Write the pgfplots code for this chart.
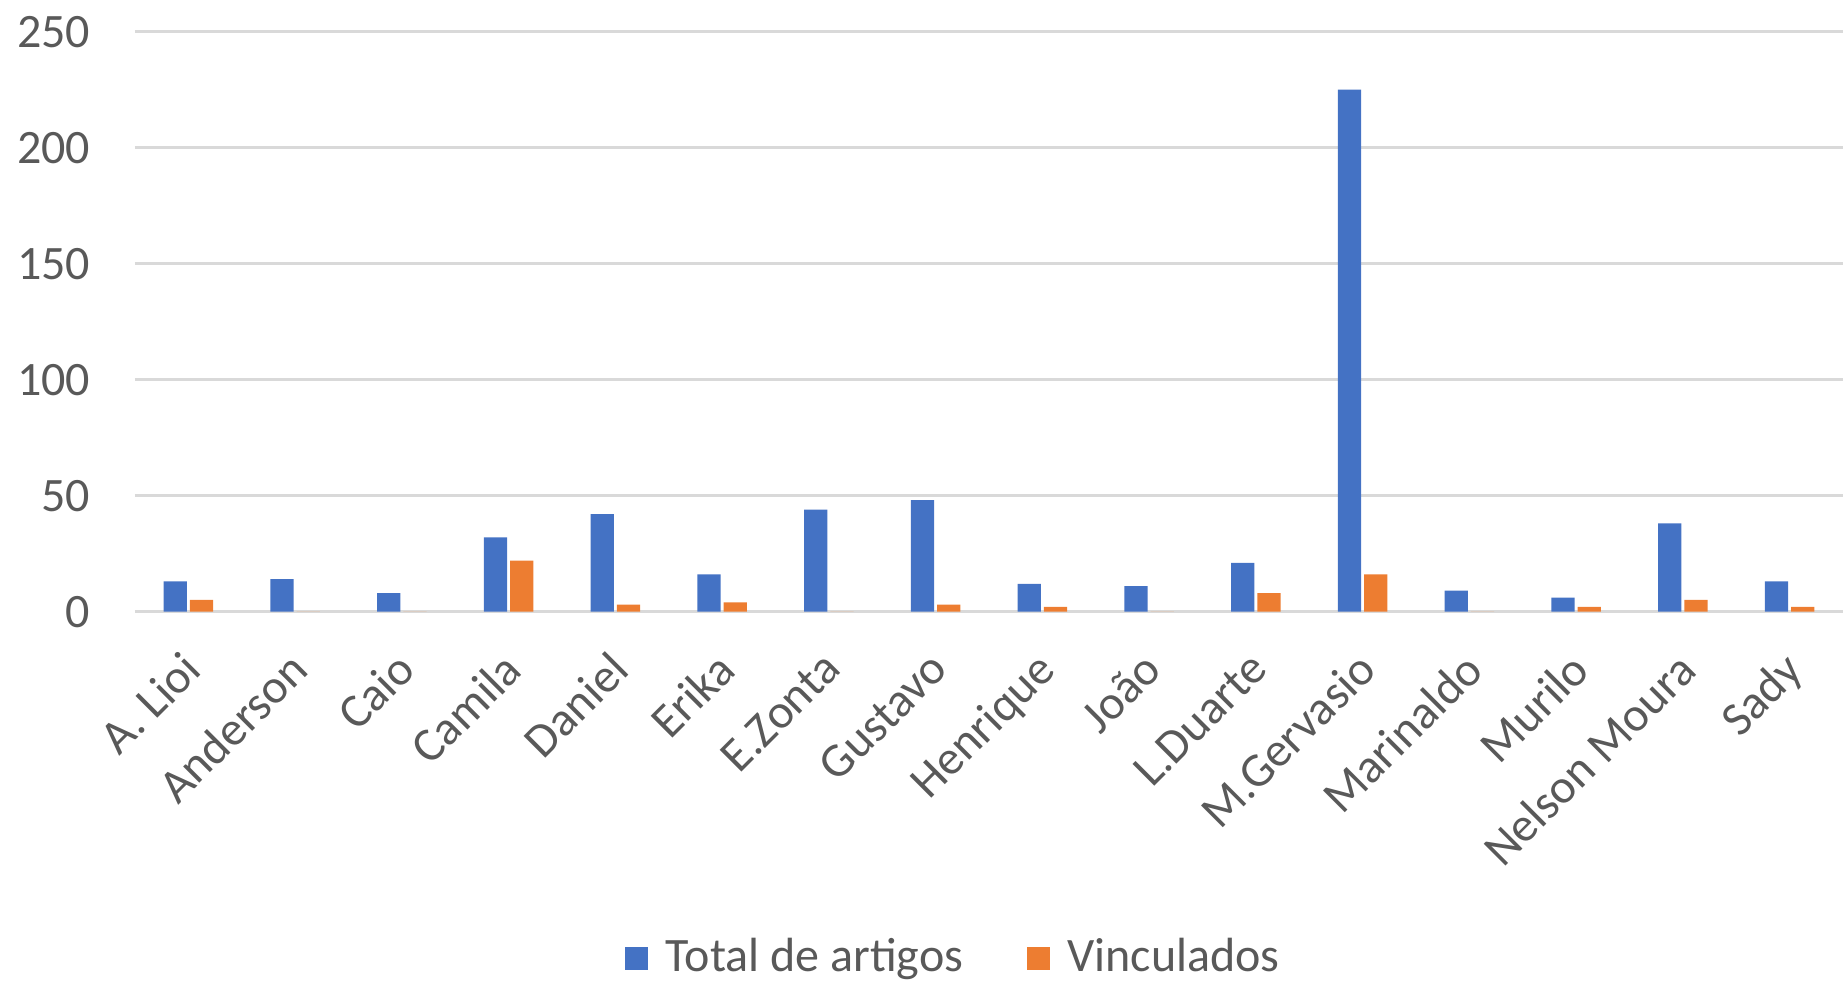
\documentclass[border=0pt]{standalone}
\usepackage{fontspec}
\setmainfont{Carlito}
\usepackage{pgfplots}
\pgfplotsset{compat=1.18}

\definecolor{xlblue}{HTML}{4472C4}
\definecolor{xlorange}{HTML}{ED7D31}
\definecolor{gridgray}{HTML}{D9D9D9}
\definecolor{textgray}{HTML}{595959}

\begin{document}
\fontsize{12}{14}\selectfont
\begin{tikzpicture}
\begin{axis}[
    width=427pt, height=145pt, scale only axis,
    ybar=0.8pt, bar width=5.8pt,
    ymin=0, ymax=250, ytick={0,50,...,250},
    xmin=-0.5, xmax=15.5,
    xtick={0,...,15},
    xticklabels={A. Lioi, Anderson, Caio, Camila, Daniel, Erika, E.Zonta, Gustavo,
        Henrique, João, L.Duarte, M.Gervasio, Marinaldo, Murilo, Nelson Moura, Sady},
    axis line style={draw=none},
    major tick length=0pt,
    ymajorgrids, grid style={draw=gridgray, line width=0.7pt},
    tick label style={text=textgray, font=\fontsize{12}{14}\selectfont},
    /pgf/number format/assume math mode=true,
    yticklabel style={inner sep=0pt, xshift=-11pt},
    xticklabel style={inner sep=0pt, xshift=-2pt, yshift=-9.2pt, rotate=45, anchor=north east},
    legend style={at={(0.481,-0.598)}, anchor=center, draw=none, fill=none,
        legend columns=-1, font=\fontsize{12}{14}\selectfont, text=textgray,
        /tikz/every odd column/.append style={column sep=2.5pt},
        /tikz/every even column/.append style={column sep=14pt}},
    legend image code/.code={\fill[#1] (0pt,-2.8pt) rectangle (5.6pt,2.8pt);},
    legend cell align=left,
]
% Total de artigos
\addplot[fill=xlblue, draw=none] coordinates {
    (0,13) (1,14) (2,8) (3,32) (4,42) (5,16) (6,44) (7,48)
    (8,12) (9,11) (10,21) (11,225) (12,9) (13,6) (14,38) (15,13)};
% Vinculados
\addplot[fill=xlorange, draw=none] coordinates {
    (0,5) (1,0) (2,0) (3,22) (4,3) (5,4) (6,0) (7,3)
    (8,2) (9,0) (10,8) (11,16) (12,0) (13,2) (14,5) (15,2)};
\legend{Total de artigos, Vinculados}
\end{axis}
\pgfresetboundingbox
\path[use as bounding box] (-33.75pt,-92.75pt) rectangle (427pt,152.9pt);
\end{tikzpicture}
\end{document}
